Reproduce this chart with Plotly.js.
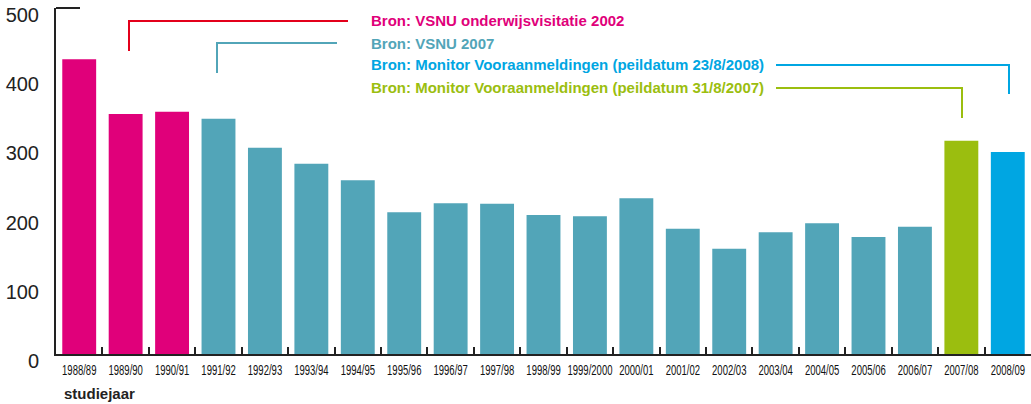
<!DOCTYPE html>
<html>
<head>
<meta charset="utf-8">
<script src="https://cdn.plot.ly/plotly-3.0.1.min.js"></script>
<style>html,body{margin:0;padding:0;background:#fff}#chart{width:1031px;height:404px}</style>
</head>
<body>
<div id="chart"></div>
<script>
const categories = ["1988/89","1989/90","1990/91","1991/92","1992/93","1993/94","1994/95","1995/96","1996/97","1997/98","1998/99","1999/2000","2000/01","2001/02","2002/03","2003/04","2004/05","2005/06","2006/07","2007/08","2008/09"];
const values = [426,347,350,340,298,275,251,205,218,217,201,199,225,181,152,176,189,169,184,308,292];
const sourceOfBar = [0,0,0,1,1,1,1,1,1,1,1,1,1,1,1,1,1,1,1,3,2];
const sourceLabels = [
  "Bron: VSNU onderwijsvisitatie 2002",
  "Bron: VSNU 2007",
  "Bron: Monitor Vooraanmeldingen (peildatum 23/8/2008)",
  "Bron: Monitor Vooraanmeldingen (peildatum 31/8/2007)"
];
const sourceColors = ["#e0007a","#52a5b8","#00a6e2","#9bbe0f"];
const lineColors = ["#e3001b","#52a5b8","#00a6e2","#9bbe0f"];
const yTicks = [0,100,200,300,400,500];

const W = 1031, H = 404, L = 56, R = 0, T = 8, B = 50;
const px = x => (x - L) / (W - L - R);
const py = y => (H - B - y) / (H - T - B);

const SANS = "'Liberation Sans', Arial, sans-serif";

const trace = {
  type: "bar",
  x: categories,
  y: values,
  marker: {color: sourceOfBar.map(i => sourceColors[i])},
  hoverinfo: "x+y"
};

const legendY = [20.5, 43.5, 65, 87.5];
const connectors = [
  {y: 21, x0: 348, x1: 129, yEnd: 51},
  {y: 43, x0: 337, x1: 217, yEnd: 73},
  {y: 65, x0: 776, x1: 1009, yEnd: 94},
  {y: 88, x0: 776, x1: 962, yEnd: 118}
];

const shapes = [];
connectors.forEach((c, i) => {
  shapes.push({type: "path", xref: "paper", yref: "paper",
    path: `M ${px(c.x0)} ${py(c.y)} L ${px(c.x1)} ${py(c.y)} L ${px(c.x1)} ${py(c.yEnd)}`,
    line: {color: lineColors[i], width: 2}});
});
shapes.push({type: "line", xref: "paper", yref: "paper", x0: 0, x1: px(80), y0: 1, y1: 1,
  line: {color: "#222", width: 2}});

const annotations = sourceLabels.map((t, i) => ({
  xref: "paper", yref: "paper", x: px(369), y: py(legendY[i]),
  xanchor: "left", yanchor: "middle", showarrow: false, text: "<b>" + t + "</b>",
  font: {family: SANS, size: 15, color: sourceColors[i]}
}));
annotations.push({xref: "paper", yref: "paper", x: px(62), y: py(393), xanchor: "left", yanchor: "middle",
  showarrow: false, text: "<b>studiejaar</b>",
  font: {family: SANS, size: 15, color: "#222"}});

const layout = {
  width: W, height: H,
  margin: {l: L, r: R, t: T, b: B},
  paper_bgcolor: "#fff", plot_bgcolor: "#fff",
  showlegend: false,
  bargap: 0.27,
  xaxis: {
    type: "category",
    showline: true, linecolor: "#222", linewidth: 2,
    ticks: "inside", tickson: "boundaries", ticklen: 7, tickwidth: 2, tickcolor: "#222",
    tickangle: 0,
    ticklabelstandoff: 2,
    tickfont: {family: SANS, size: 14, color: "#111"},
    showgrid: false, zeroline: false, fixedrange: true
  },
  yaxis: {
    range: [0, 500],
    tickvals: yTicks,
    showline: true, linecolor: "#222", linewidth: 2,
    ticks: "", showgrid: false, zeroline: false,
    tickfont: {family: SANS, size: 20, color: "#222"},
    ticklabelstandoff: 11,
    ticklabelshift: 7,
    fixedrange: true
  },
  shapes: shapes,
  annotations: annotations
};

Plotly.newPlot("chart", [trace], layout, {displayModeBar: false, staticPlot: true}).then(gd => {
  // condense the x tick labels (narrow type as in the reference)
  gd.querySelectorAll(".xtick text").forEach(t => {
    const bb = t.getBBox();
    const cx = bb.x + bb.width / 2;
    const prev = t.getAttribute("transform") || "";
    t.setAttribute("transform", prev + ` translate(${cx},0) scale(0.68,1) translate(${-cx},0)`);
  });
});
</script>
</body>
</html>
